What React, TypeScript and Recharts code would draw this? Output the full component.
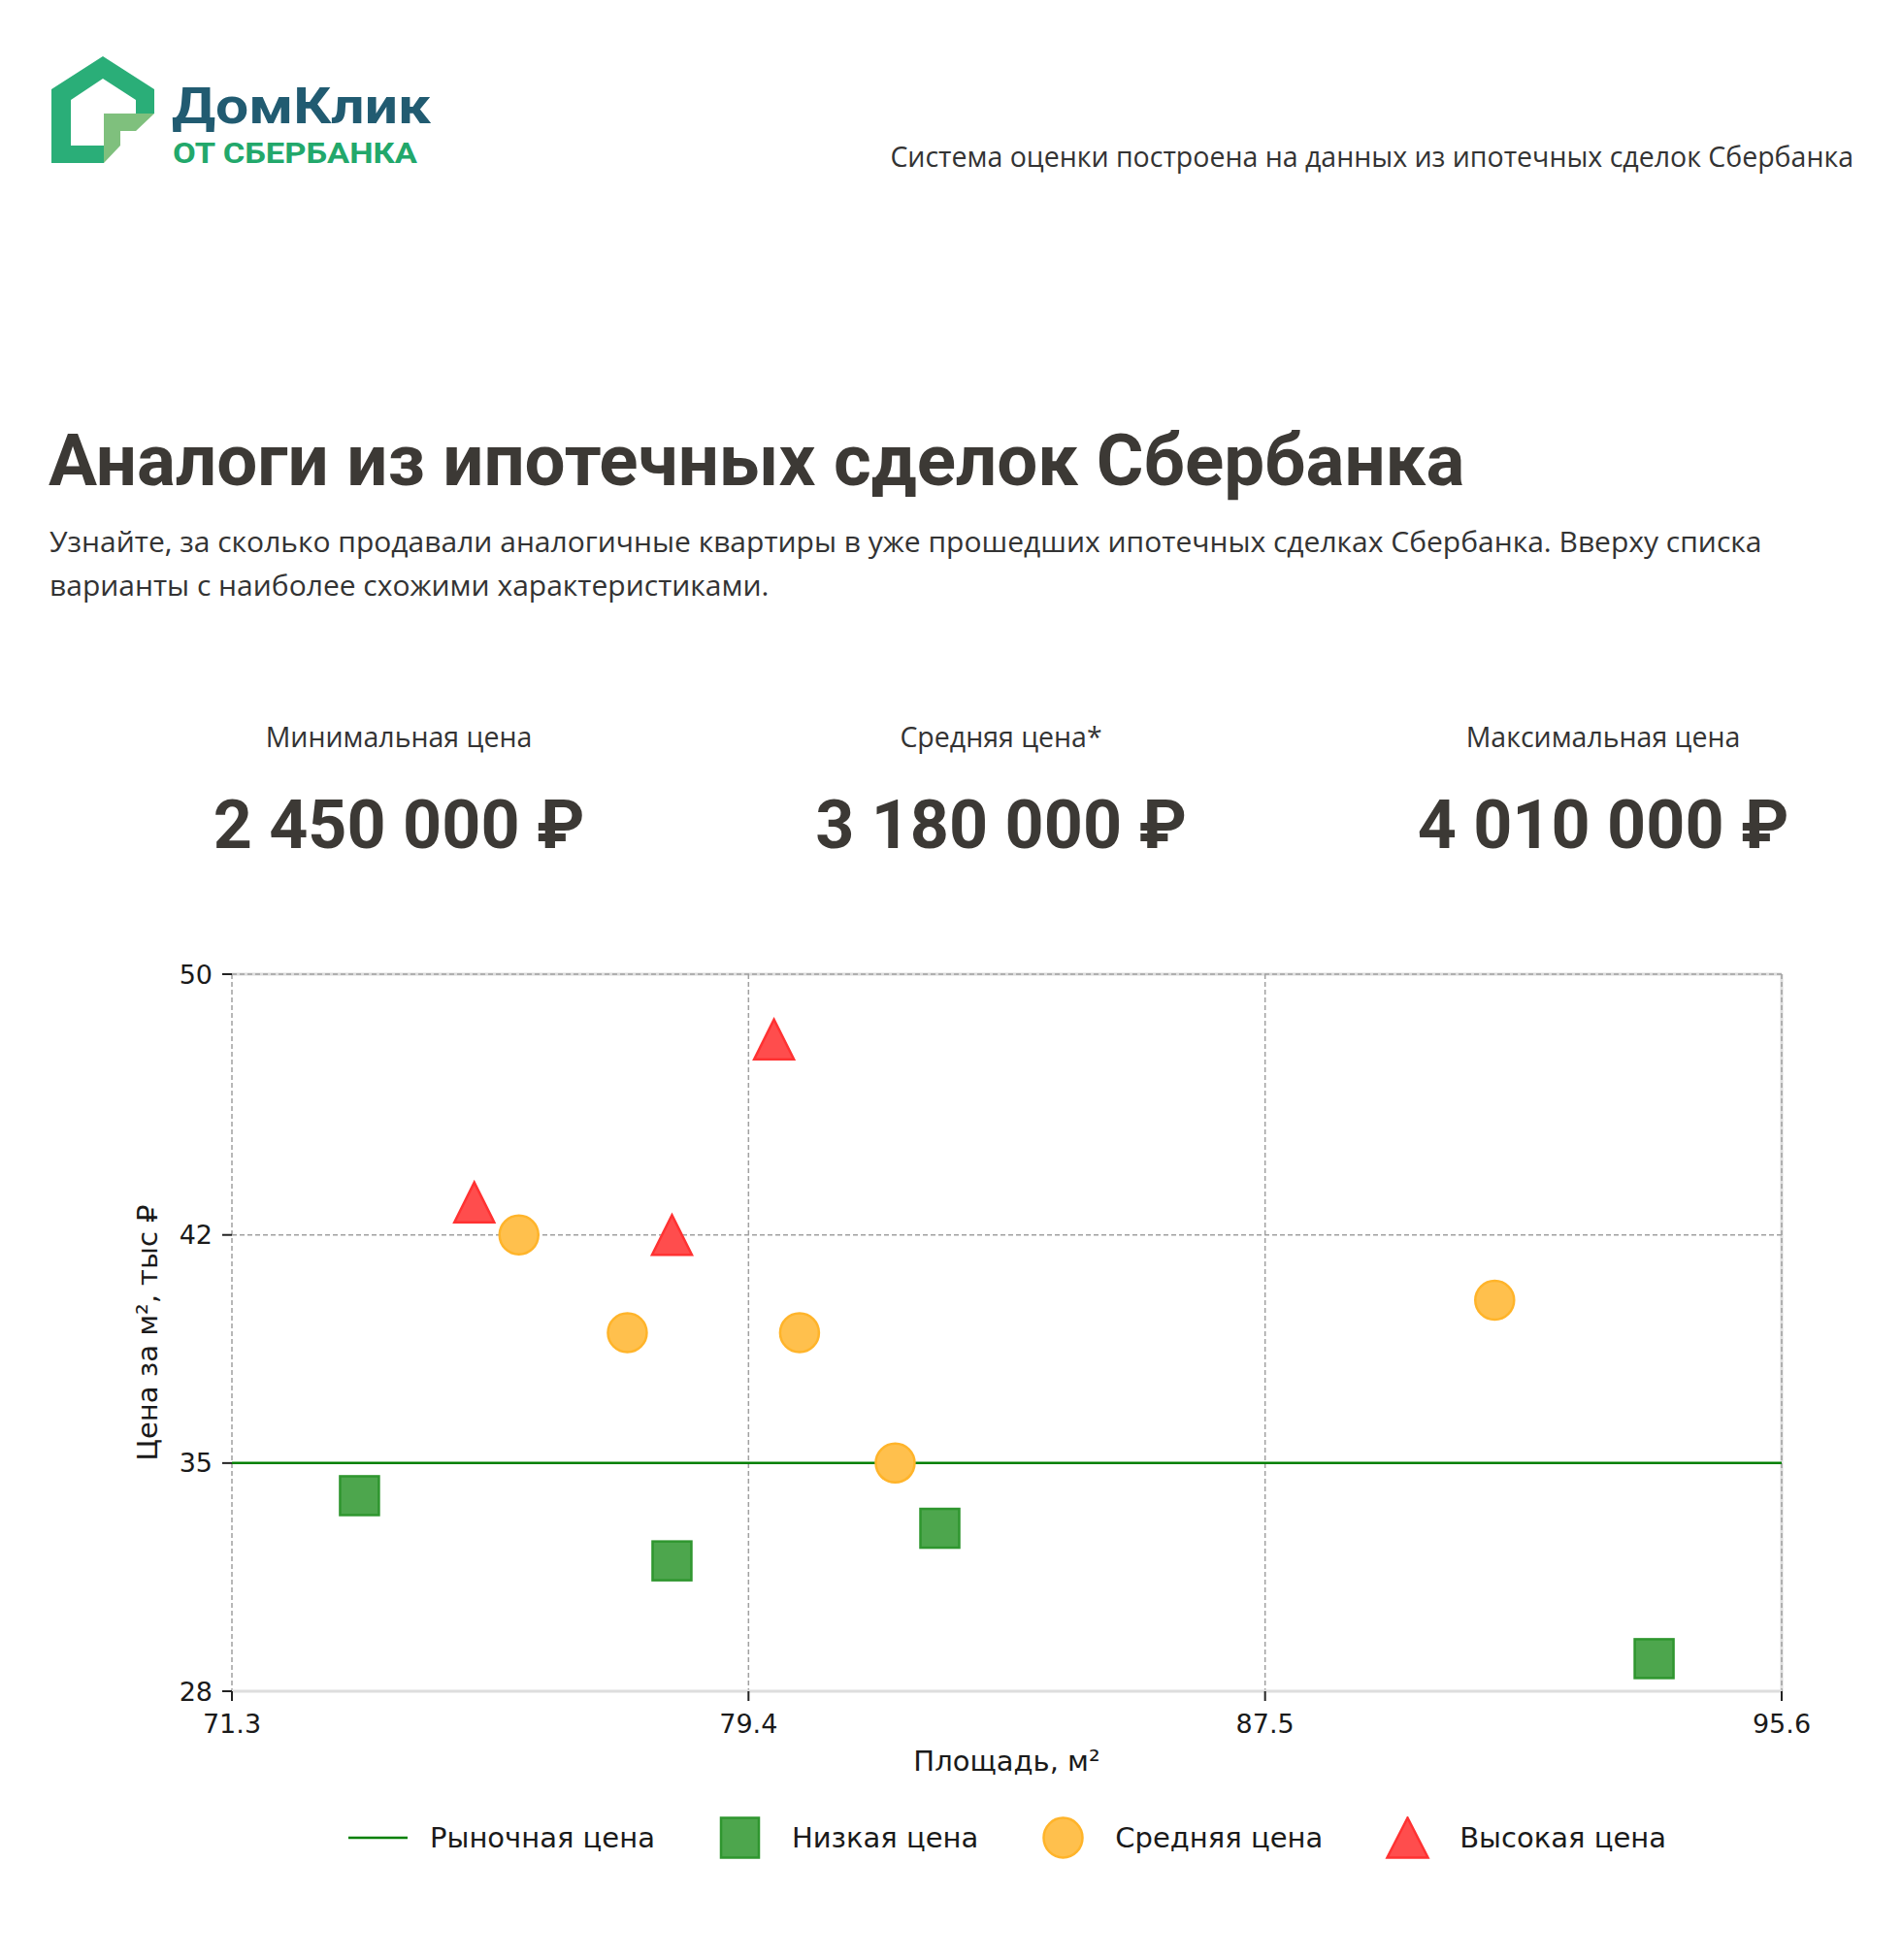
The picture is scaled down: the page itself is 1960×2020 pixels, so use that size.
import React from "react";
import { ScatterChart, Scatter, XAxis, YAxis, CartesianGrid, ReferenceLine } from "recharts";

// axis ticks
const xTicks = [71.3, 79.4, 87.5, 95.6];
const yTicks = [28, 35, 42, 50];
const marketPrice = 35;

// series: area (m²) and price per m² (тыс ₽)
const lowArea = [73.3, 78.2, 82.4, 93.6];
const lowPrice = [34, 32, 33, 29];
const midArea = [75.8, 77.5, 80.2, 81.7, 91.1];
const midPrice = [42, 39, 39, 35, 40];
const highArea = [75.1, 78.2, 79.8];
const highPrice = [43, 42, 48];

const statLabels = ["Минимальная цена", "Средняя цена*", "Максимальная цена"];
const statValues = ["2 450 000 ₽", "3 180 000 ₽", "4 010 000 ₽"];

const legendNames = ["Рыночная цена", "Низкая цена", "Средняя цена", "Высокая цена"];

const toPoints = (xs: number[], ys: number[]) => xs.map((x, i) => ({ x, y: ys[i] }));

const CHART_FONT = '"DejaVu Sans", sans-serif';
const PAGE_FONT = '"Open Sans", "Noto Sans", sans-serif';
const HEAD_FONT = 'Roboto, "Noto Sans", sans-serif';

const GREEN = { fill: "#4da64d", stroke: "#2f962f" };
const ORANGE = { fill: "#ffc04d", stroke: "#ffb42a" };
const RED = { fill: "#ff4d4d", stroke: "#ff3232" };

const SquareMark = (p: any) => (
  <rect x={p.cx - 20} y={p.cy - 20} width={40} height={40} fill={GREEN.fill} stroke={GREEN.stroke} strokeWidth={2.5} />
);
const CircleMark = (p: any) => (
  <circle cx={p.cx} cy={p.cy} r={20} fill={ORANGE.fill} stroke={ORANGE.stroke} strokeWidth={2.5} />
);
const TriangleMark = (p: any) => (
  <polygon
    points={`${p.cx},${p.cy - 20.5} ${p.cx - 20.5},${p.cy + 20.5} ${p.cx + 20.5},${p.cy + 20.5}`}
    fill={RED.fill}
    stroke={RED.stroke}
    strokeWidth={2.5}
  />
);

function Logo() {
  return (
    <svg width={460} height={140} style={{ position: "absolute", left: 40, top: 45 }} viewBox="40 45 460 140">
      <path d="M53,92 L106,58 L159,92 L159,117 L140,117 L140,103 L106,81 L73,103 L73,150 L107,150 L107,168 L53,168 Z" fill="#2aae78" />
      <path d="M107,117 L159,117 L140,135 L124,135 L124,150 L107,168 Z" fill="#7fc07d" />
      <text x={177} y={127} fontFamily={HEAD_FONT} fontWeight={700} fontSize={52} fill="#215b71" textLength={267} lengthAdjust="spacingAndGlyphs">
        ДомКлик
      </text>
      <text x={178} y={168} fontFamily={HEAD_FONT} fontWeight={700} fontSize={30} fill="#22a86b" textLength={252} lengthAdjust="spacingAndGlyphs">
        ОТ СБЕРБАНКА
      </text>
    </svg>
  );
}

function LegendIcon({ kind }: { kind: number }) {
  return (
    <svg width={61} height={44} style={{ display: "block" }}>
      {kind === 0 && <line x1={0} x2={61} y1={22} y2={22} stroke="#008000" strokeWidth={2.5} />}
      {kind === 1 && <rect x={11} y={1.5} width={39} height={41} fill={GREEN.fill} stroke={GREEN.stroke} strokeWidth={2.5} />}
      {kind === 2 && <ellipse cx={30.5} cy={22} rx={20} ry={20.5} fill={ORANGE.fill} stroke={ORANGE.stroke} strokeWidth={2.5} />}
      {kind === 3 && <polygon points="30.5,1.5 9.5,42.5 51.5,42.5" fill={RED.fill} stroke={RED.stroke} strokeWidth={2.5} />}
    </svg>
  );
}

export default function App() {
  return (
    <div
      style={{
        position: "relative",
        width: 1960,
        height: 2020,
        background: "#ffffff",
        overflow: "hidden",
        fontFamily: PAGE_FONT,
        color: "#333333",
      }}
    >
      <style>{"body{margin:0}"}</style>
      <Logo />
      <div
        style={{
          position: "absolute",
          right: 50,
          top: 147,
          fontSize: 28.5,
          lineHeight: "28px",
          whiteSpace: "nowrap",
          color: "#333",
        }}
      >
        Система оценки построена на данных из ипотечных сделок Сбербанка
      </div>

      <div
        style={{
          position: "absolute",
          left: 50,
          top: 438,
          fontFamily: HEAD_FONT,
          fontWeight: 700,
          fontSize: 74.5,
          lineHeight: "74px",
          whiteSpace: "nowrap",
          color: "#3c3935",
        }}
      >
        Аналоги из ипотечных сделок Сбербанка
      </div>
      <div
        style={{
          position: "absolute",
          left: 51,
          top: 535,
          width: 1860,
          fontSize: 30,
          lineHeight: "45px",
          color: "#333",
          whiteSpace: "nowrap",
        }}
      >
        Узнайте, за сколько продавали аналогичные квартиры в уже прошедших ипотечных сделках Сбербанка. Вверху списка
        <br />
        варианты с наиболее схожими характеристиками.
      </div>

      {statLabels.map((label, i) => (
        <div
          key={label}
          style={{ position: "absolute", left: 411 + i * 620.5 - 300, top: 741, width: 600, textAlign: "center" }}
        >
          <div style={{ fontSize: 28.5, lineHeight: "36px", color: "#333" }}>{label}</div>
          <div
            style={{
              marginTop: 38,
              fontFamily: HEAD_FONT,
              fontWeight: 700,
              fontSize: 70,
              lineHeight: "70px",
              color: "#3c3935",
            }}
          >
            {statValues[i]}
          </div>
        </div>
      ))}

      <div style={{ position: "absolute", left: 0, top: 950 }}>
        <ScatterChart width={1960} height={1000} margin={{ top: 54, right: 124, bottom: 147, left: 0 }}>
          <CartesianGrid horizontalValues={[50]} verticalValues={[95.6]} stroke="#dddddd" strokeWidth={3} />
          <CartesianGrid strokeDasharray="5 3" stroke="#a0a0a0" strokeWidth={1.5} />
          <XAxis
            type="number"
            dataKey="x"
            domain={[71.3, 95.6]}
            ticks={xTicks}
            interval={0}
            height={60}
            axisLine={{ stroke: "#dddddd", strokeWidth: 3 }}
            tickLine={{ stroke: "#222", strokeWidth: 2 }}
            tickSize={10}
            tickMargin={14}
            tick={{ fontFamily: CHART_FONT, fontSize: 27, fill: "#1a1a1a" }}
            label={(props: any) => {
              const vb = props.viewBox;
              return (
                <text
                  x={vb.x + vb.width / 2}
                  y={vb.y + 72}
                  textAnchor="middle"
                  dominantBaseline="central"
                  fontFamily={CHART_FONT}
                  fontSize={29}
                  fill="#1a1a1a"
                >
                  Площадь, м²
                </text>
              );
            }}
          />
          <YAxis
            type="number"
            dataKey="y"
            domain={[28, 50]}
            ticks={yTicks}
            interval={0}
            width={239}
            axisLine={false}
            tickLine={{ stroke: "#222", strokeWidth: 2 }}
            tickSize={10}
            tickMargin={10}
            tick={{ fontFamily: CHART_FONT, fontSize: 27, fill: "#1a1a1a" }}
            label={(props: any) => {
              const vb = props.viewBox;
              const cy = vb.y + vb.height / 2;
              return (
                <text
                  x={152}
                  y={cy}
                  transform={`rotate(-90 152 ${cy})`}
                  textAnchor="middle"
                  dominantBaseline="central"
                  fontFamily={CHART_FONT}
                  fontSize={29}
                  fill="#1a1a1a"
                >
                  Цена за м², тыс ₽
                </text>
              );
            }}
          />
          <ReferenceLine y={marketPrice} stroke="#008000" strokeWidth={2.5} ifOverflow="extendDomain" />
          <Scatter name={legendNames[1]} data={toPoints(lowArea, lowPrice)} shape={SquareMark} isAnimationActive={false} />
          <Scatter name={legendNames[2]} data={toPoints(midArea, midPrice)} shape={CircleMark} isAnimationActive={false} />
          <Scatter name={legendNames[3]} data={toPoints(highArea, highPrice)} shape={TriangleMark} isAnimationActive={false} />
        </ScatterChart>
      </div>

      <div
        style={{
          position: "absolute",
          left: 359,
          top: 1872,
          display: "flex",
          alignItems: "center",
          fontFamily: CHART_FONT,
          fontSize: 29,
          color: "#1a1a1a",
        }}
      >
        {legendNames.map((name, i) => (
          <div key={name} style={{ display: "flex", alignItems: "center", marginRight: 57 }}>
            <LegendIcon kind={i} />
            <span style={{ marginLeft: 23, whiteSpace: "nowrap" }}>{name}</span>
          </div>
        ))}
      </div>
    </div>
  );
}
